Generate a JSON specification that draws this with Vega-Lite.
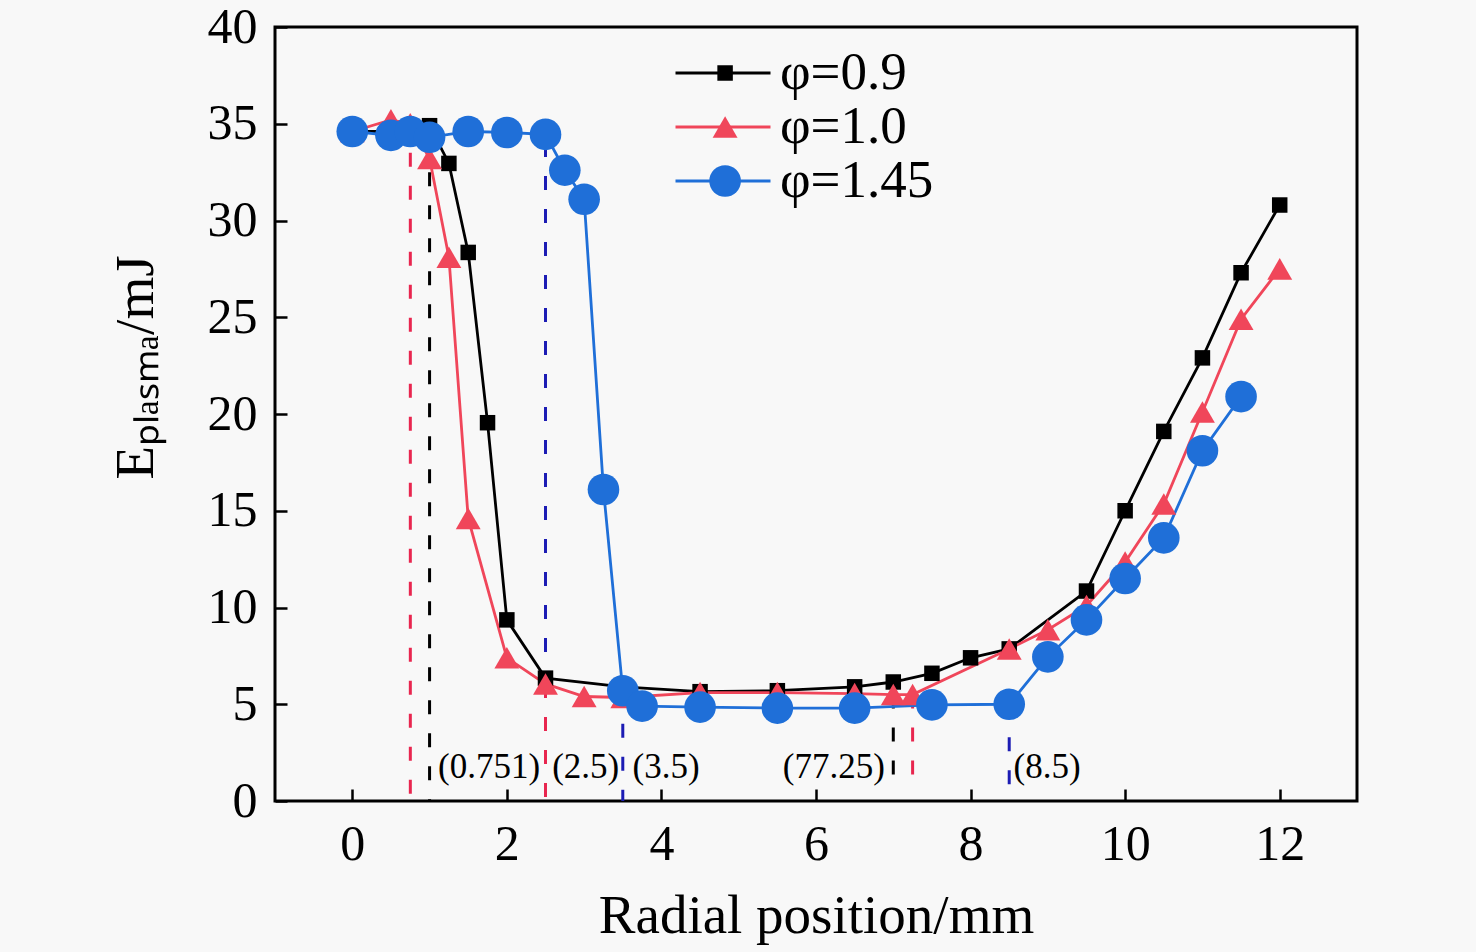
{
  "$schema": "https://vega.github.io/schema/vega-lite/v6.json",
  "width": 1082,
  "height": 774,
  "autosize": {"type": "none"},
  "padding": {"left": 275, "top": 27, "right": 119, "bottom": 151},
  "background": "#f8f8f8",
  "config": {
    "font": "Liberation Serif",
    "view": {"stroke": "#000000", "strokeWidth": 3},
    "axis": {
      "grid": false,
      "domain": false,
      "tickColor": "#000000",
      "tickWidth": 2.5,
      "tickSize": -12,
      "labelFont": "Liberation Serif",
      "labelFontSize": 50,
      "labelColor": "#000000",
      "titleFont": "Liberation Serif",
      "titleFontSize": 55,
      "titleFontWeight": "normal",
      "titleColor": "#000000"
    },
    "legend": {
      "labelFont": "Liberation Serif",
      "labelFontSize": 53,
      "labelColor": "#000000",
      "rowPadding": 0,
      "padding": 0,
      "clipHeight": 48.5
    }
  },
  "datasets": {
    "series": [
      {"r": 0, "e": 34.6, "s": "φ=0.9"},
      {"r": 0.5, "e": 34.6, "s": "φ=0.9"},
      {"r": 0.75, "e": 34.7, "s": "φ=0.9"},
      {"r": 1.0, "e": 34.9, "s": "φ=0.9"},
      {"r": 1.25, "e": 32.95, "s": "φ=0.9"},
      {"r": 1.5, "e": 28.35, "s": "φ=0.9"},
      {"r": 1.75, "e": 19.55, "s": "φ=0.9"},
      {"r": 2.0, "e": 9.36, "s": "φ=0.9"},
      {"r": 2.5, "e": 6.35, "s": "φ=0.9"},
      {"r": 3.5, "e": 5.9, "s": "φ=0.9"},
      {"r": 4.5, "e": 5.65, "s": "φ=0.9"},
      {"r": 5.5, "e": 5.7, "s": "φ=0.9"},
      {"r": 6.5, "e": 5.9, "s": "φ=0.9"},
      {"r": 7.0, "e": 6.15, "s": "φ=0.9"},
      {"r": 7.5, "e": 6.6, "s": "φ=0.9"},
      {"r": 8.0, "e": 7.4, "s": "φ=0.9"},
      {"r": 8.5, "e": 7.86, "s": "φ=0.9"},
      {"r": 9.5, "e": 10.85, "s": "φ=0.9"},
      {"r": 10.0, "e": 15.0, "s": "φ=0.9"},
      {"r": 10.5, "e": 19.1, "s": "φ=0.9"},
      {"r": 11.0, "e": 22.9, "s": "φ=0.9"},
      {"r": 11.5, "e": 27.3, "s": "φ=0.9"},
      {"r": 12.0, "e": 30.8, "s": "φ=0.9"},
      {"r": 0, "e": 34.6, "s": "φ=1.0"},
      {"r": 0.5, "e": 35.2, "s": "φ=1.0"},
      {"r": 0.75, "e": 35.0, "s": "φ=1.0"},
      {"r": 1.0, "e": 33.2, "s": "φ=1.0"},
      {"r": 1.25, "e": 28.1, "s": "φ=1.0"},
      {"r": 1.5, "e": 14.6, "s": "φ=1.0"},
      {"r": 2.0, "e": 7.4, "s": "φ=1.0"},
      {"r": 2.5, "e": 6.05, "s": "φ=1.0"},
      {"r": 3.0, "e": 5.4, "s": "φ=1.0"},
      {"r": 3.5, "e": 5.35, "s": "φ=1.0"},
      {"r": 4.5, "e": 5.6, "s": "φ=1.0"},
      {"r": 5.5, "e": 5.6, "s": "φ=1.0"},
      {"r": 6.5, "e": 5.55, "s": "φ=1.0"},
      {"r": 7.0, "e": 5.5, "s": "φ=1.0"},
      {"r": 7.25, "e": 5.5, "s": "φ=1.0"},
      {"r": 8.5, "e": 7.86, "s": "φ=1.0"},
      {"r": 9.0, "e": 8.85, "s": "φ=1.0"},
      {"r": 9.5, "e": 10.1, "s": "φ=1.0"},
      {"r": 10.0, "e": 12.35, "s": "φ=1.0"},
      {"r": 10.5, "e": 15.35, "s": "φ=1.0"},
      {"r": 11.0, "e": 20.1, "s": "φ=1.0"},
      {"r": 11.5, "e": 24.9, "s": "φ=1.0"},
      {"r": 12.0, "e": 27.5, "s": "φ=1.0"},
      {"r": 0, "e": 34.6, "s": "φ=1.45"},
      {"r": 0.5, "e": 34.4, "s": "φ=1.45"},
      {"r": 0.75, "e": 34.6, "s": "φ=1.45"},
      {"r": 1.0, "e": 34.3, "s": "φ=1.45"},
      {"r": 1.5, "e": 34.6, "s": "φ=1.45"},
      {"r": 2.0, "e": 34.55, "s": "φ=1.45"},
      {"r": 2.5, "e": 34.45, "s": "φ=1.45"},
      {"r": 2.75, "e": 32.6, "s": "φ=1.45"},
      {"r": 3.0, "e": 31.1, "s": "φ=1.45"},
      {"r": 3.25, "e": 16.1, "s": "φ=1.45"},
      {"r": 3.5, "e": 5.7, "s": "φ=1.45"},
      {"r": 3.75, "e": 4.9, "s": "φ=1.45"},
      {"r": 4.5, "e": 4.85, "s": "φ=1.45"},
      {"r": 5.5, "e": 4.8, "s": "φ=1.45"},
      {"r": 6.5, "e": 4.8, "s": "φ=1.45"},
      {"r": 7.5, "e": 4.97, "s": "φ=1.45"},
      {"r": 8.5, "e": 5.0, "s": "φ=1.45"},
      {"r": 9.0, "e": 7.45, "s": "φ=1.45"},
      {"r": 9.5, "e": 9.36, "s": "φ=1.45"},
      {"r": 10.0, "e": 11.5, "s": "φ=1.45"},
      {"r": 10.5, "e": 13.6, "s": "φ=1.45"},
      {"r": 11.0, "e": 18.1, "s": "φ=1.45"},
      {"r": 11.5, "e": 20.9, "s": "φ=1.45"}
    ],
    "guides": [
      {"r": 0.751, "top": 33.5, "bottom": 0, "s": "φ=1.0"},
      {"r": 1.0, "top": 34.2, "bottom": 0, "s": "φ=0.9"},
      {"r": 2.5, "top": 34.0, "bottom": 6.05, "s": "φ=1.45"},
      {"r": 2.5, "top": 6.05, "bottom": 0, "s": "φ=1.0"},
      {"r": 3.5, "top": 5.7, "bottom": 0, "s": "φ=1.45"},
      {"r": 7.0, "top": 5.5, "bottom": 1.2, "s": "φ=0.9"},
      {"r": 7.25, "top": 5.5, "bottom": 0.8, "s": "φ=1.0"},
      {"r": 8.5, "top": 5.0, "bottom": 0.3, "s": "φ=1.45"}
    ],
    "notes": [
      {"r": 1.77, "e": 1.75, "t": "(0.751)"},
      {"r": 3.02, "e": 1.75, "t": "(2.5)"},
      {"r": 4.06, "e": 1.75, "t": "(3.5)"},
      {"r": 6.23, "e": 1.75, "t": "(77.25)"},
      {"r": 8.99, "e": 1.75, "t": "(8.5)"}
    ]
  },
  "layer": [
    {
      "data": {"name": "guides"},
      "transform": [{"filter": "datum.s === 'φ=0.9'"}],
      "mark": {"type": "rule", "strokeWidth": 3, "strokeDash": [14, 19], "color": "#000000"},
      "encoding": {
        "x": {"field": "r", "type": "quantitative", "scale": {"domain": [-1, 13]}},
        "y": {"field": "top", "type": "quantitative"},
        "y2": {"field": "bottom"}
      }
    },
    {
      "data": {"name": "guides"},
      "transform": [{"filter": "datum.s === 'φ=1.0'"}],
      "mark": {"type": "rule", "strokeWidth": 3, "strokeDash": [14, 19], "color": "#e8264f"},
      "encoding": {
        "x": {"field": "r", "type": "quantitative"},
        "y": {"field": "top", "type": "quantitative"},
        "y2": {"field": "bottom"}
      }
    },
    {
      "data": {"name": "guides"},
      "transform": [{"filter": "datum.s === 'φ=1.45'"}],
      "mark": {"type": "rule", "strokeWidth": 3, "strokeDash": [14, 19], "color": "#1c1cb4"},
      "encoding": {
        "x": {"field": "r", "type": "quantitative"},
        "y": {"field": "top", "type": "quantitative"},
        "y2": {"field": "bottom"}
      }
    },
    {
      "data": {"name": "series"},
      "mark": {"type": "line", "strokeWidth": 2.8},
      "encoding": {
        "x": {
          "field": "r",
          "type": "quantitative",
          "title": "Radial position/mm",
          "scale": {"domain": [-1, 13], "nice": false},
          "axis": {"values": [0, 2, 4, 6, 8, 10, 12], "format": "d", "labelPadding": 30, "titleY": 114, "titleBaseline": "middle"}
        },
        "y": {
          "field": "e",
          "type": "quantitative",
          "title": "Eₚₗₐₛₘₐ/mJ",
          "scale": {"domain": [0, 40], "nice": false},
          "axis": {"values": [0, 5, 10, 15, 20, 25, 30, 35, 40], "labelPadding": 30, "titleX": -140, "titleY": 340, "titleAlign": "center", "titleBaseline": "middle", "titleAngle": -90}
        },
        "color": {
          "field": "s",
          "type": "nominal",
          "scale": {"domain": ["φ=0.9", "φ=1.0", "φ=1.45"], "range": ["#000000", "#f0465a", "#1f6fd8"]},
          "legend": {
            "title": null,
            "orient": "none",
            "legendX": 399,
            "legendY": 21.75,
            "symbolType": "stroke",
            "symbolSize": 9025,
            "symbolStrokeWidth": 2.8,
            "labelOffset": 8
          }
        }
      }
    },
    {
      "data": {"name": "series"},
      "mark": {"type": "point", "filled": true, "opacity": 1},
      "encoding": {
        "x": {"field": "r", "type": "quantitative"},
        "y": {"field": "e", "type": "quantitative"},
        "fill": {
          "field": "s",
          "type": "nominal",
          "scale": {"range": ["#000000", "#f0465a", "#1f6fd8"]},
          "legend": {
            "title": null,
            "orient": "none",
            "legendX": 423.6,
            "legendY": 21.75,
            "labelOpacity": 0,
            "symbolOpacity": 1,
            "labelOffset": 10
          }
        },
        "shape": {
          "field": "s",
          "type": "nominal",
          "scale": {"range": ["square", "triangle-up", "circle"]}
        },
        "size": {
          "field": "s",
          "type": "nominal",
          "scale": {"range": [240, 1000, 400]}
        }
      }
    },
    {
      "data": {"name": "notes"},
      "mark": {"type": "text", "font": "Liberation Serif", "fontSize": 35, "color": "#000000", "align": "center", "baseline": "middle"},
      "encoding": {
        "x": {"field": "r", "type": "quantitative"},
        "y": {"field": "e", "type": "quantitative"},
        "text": {"field": "t"}
      }
    }
  ]
}
